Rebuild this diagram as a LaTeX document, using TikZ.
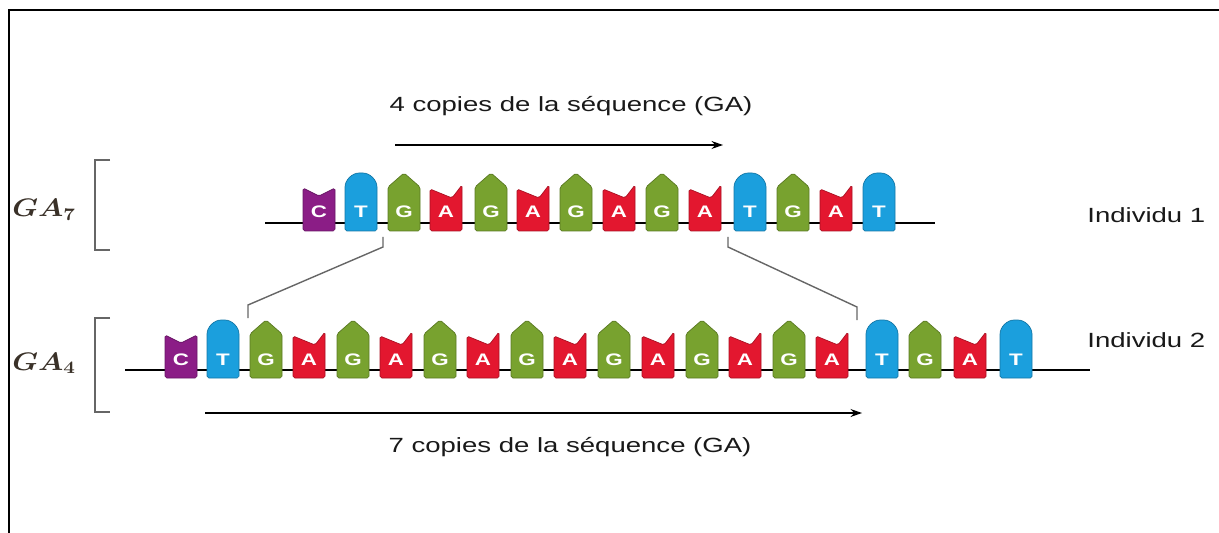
\documentclass[tikz,border=0pt]{standalone}
\usepackage{amsmath}
\usepackage{fontspec}
\setmainfont{Liberation Sans}
\usepackage{graphicx}
\usetikzlibrary{calc,arrows.meta}

\definecolor{colC}{HTML}{8B1D86}
\definecolor{colT}{HTML}{1B9FDD}
\definecolor{colG}{HTML}{78A22F}
\definecolor{colA}{HTML}{E3172F}
\definecolor{gaink}{HTML}{3A3128}

\newcommand{\wide}[1]{\scalebox{1.34}[1]{#1}}
% one nucleotide: #1 = x centre, #2 = y of the strand
\newcommand{\nucC}[2]{\filldraw[baseC] (#1-16,#2+8) -- (#1-16,#2-35) -- (#1,#2-27) -- (#1+16,#2-35) -- (#1+16,#2+8) -- cycle;}
\newcommand{\nucT}[2]{\filldraw[baseT] (#1-16,#2+8) -- (#1-16,#2-34) .. controls (#1-16,#2-43) and (#1-9,#2-50) .. (#1,#2-50) .. controls (#1+9,#2-50) and (#1+16,#2-43) .. (#1+16,#2-34) -- (#1+16,#2+8) -- cycle;}
\newcommand{\nucG}[2]{\filldraw[baseG] (#1-16,#2+8) -- (#1-16,#2-36) -- (#1,#2-50) -- (#1+16,#2-36) -- (#1+16,#2+8) -- cycle;}
\newcommand{\nucA}[2]{\filldraw[baseA] (#1-16,#2+8) -- (#1-16,#2-34) -- (#1+6,#2-25) -- (#1+16,#2-38) -- (#1+16,#2+8) -- cycle;}

\begin{document}
\begin{tikzpicture}[x=0.02cm,y=-0.02cm,>={Stealth[length=6.5pt,width=4.5pt]},
	strand/.style={line width=1.1pt},
	link/.style={draw=black!60,line width=0.8pt},
	brk/.style={draw=black!60,line width=1pt},
	copyarr/.style={->,line width=0.7pt},
	lbl/.style={font=\fontsize{11.7}{14}\selectfont,text=black!90,inner sep=0pt},
	letter/.style={font=\fontsize{9.5}{10}\selectfont\bfseries,text=white,inner sep=0pt},
	ga/.style={font=\fontsize{14}{16}\selectfont,text=gaink,inner sep=0pt},
	baseC/.style={fill=colC,draw=colC!75!black,line width=0.4pt,rounded corners=1pt},
	baseT/.style={fill=colT,draw=colT!75!black,line width=0.4pt,rounded corners=1pt},
	baseG/.style={fill=colG,draw=colG!75!black,line width=0.4pt,rounded corners=1pt},
	baseA/.style={fill=colA,draw=colA!75!black,line width=0.4pt,rounded corners=1pt}]
	\useasboundingbox (0,0) rectangle (1219,533);
	
	%frame
	\draw[line width=1.6pt] (1219,10) -- (9,10) -- (9,533);
	
	%strands
	\coordinate (s1w) at (265,223);
	\coordinate (s1e) at (935,223);
	\coordinate (s2w) at (125,370);
	\coordinate (s2e) at (1090,370);
	\draw[strand] (s1w) -- (s1e);
	\draw[strand] (s2w) -- (s2e);
	
	%Individu 1
	\foreach \base/\xpos [count=\i] in {C/319,T/361,G/404,A/446,G/491,A/533,G/576,A/619,G/662,A/705,T/750,G/793,A/836,T/879}
	{
		\csname nuc\base\endcsname{\xpos}{223}
		\node[letter] (u\i) at (\xpos,212) {\wide{\base}};
	}
	
	%Individu 2
	\foreach \base/\xpos [count=\i] in {C/181,T/223,G/266,A/309,G/353,A/396,G/440,A/483,G/527,A/570,G/614,A/658,G/702,A/745,G/789,A/832,T/882,G/925,A/970,T/1016}
	{
		\csname nuc\base\endcsname{\xpos}{370}
		\node[letter] (v\i) at (\xpos,360) {\wide{\base}};
	}
	
	%repeat boundaries
	\coordinate (cutTL) at (383,237);
	\coordinate (cutTR) at (728,237);
	\coordinate (cutBL) at (248,318);
	\coordinate (cutBR) at (857,320);
	\draw[link] (cutTL) -- ++(0,10) -- ($(cutBL)+(0,-13)$) -- (cutBL);
	\draw[link] (cutTR) -- ++(0,10) -- ($(cutBR)+(0,-13)$) -- (cutBR);
	
	%copy arrows
	\coordinate (a4s) at (395,145);
	\coordinate (a4e) at (723,145);
	\coordinate (a7s) at (205,413);
	\coordinate (a7e) at (862,413);
	\draw[copyarr] (a4s) -- (a4e);
	\draw[copyarr] (a7s) -- (a7e);
	
	%labels
	\node[lbl,anchor=base] (cp4) at (571,112) {\wide{4 copies de la séquence (GA)}};
	\node[lbl,anchor=base] (cp7) at (570,452) {\wide{7 copies de la séquence (GA)}};
	\node[lbl,anchor=base west] (ind1) at (1087,223) {\wide{Individu 1}};
	\node[lbl,anchor=base west] (ind2) at (1087,347) {\wide{Individu 2}};
	\node[ga,anchor=base west] (ga7) at (12,217) {\scalebox{1.15}[1]{$\boldsymbol{GA_7}$}};
	\node[ga,anchor=base west] (ga4) at (12,370) {\scalebox{1.15}[1]{$\boldsymbol{GA_4}$}};
	
	%brackets
	\draw[brk] (110,160) -- (95,160) -- (95,250) -- (110,250);
	\draw[brk] (110,318) -- (95,318) -- (95,412) -- (110,412);
\end{tikzpicture}
\end{document}
